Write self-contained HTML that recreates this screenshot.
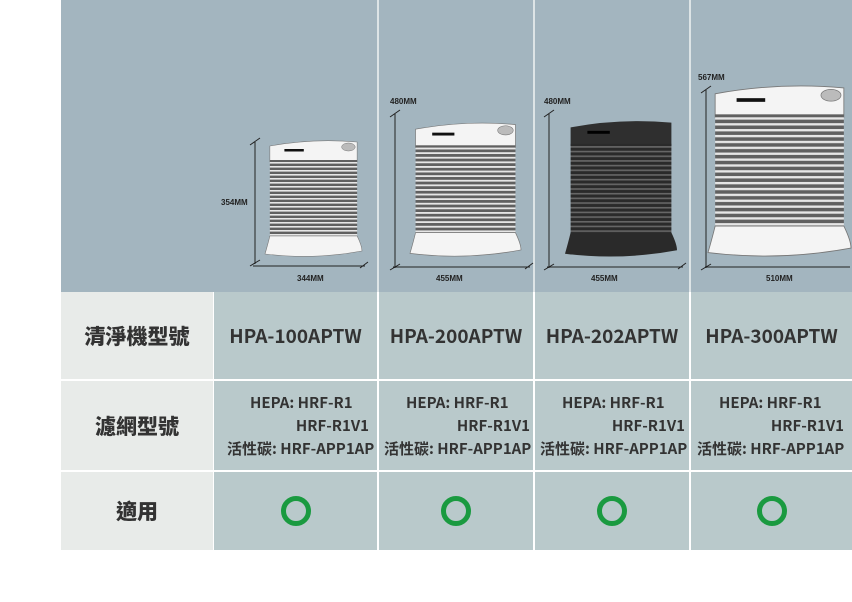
<!DOCTYPE html>
<html><head><meta charset="utf-8"><style>
body{margin:0;width:852px;height:602px;background:#fff;position:relative;overflow:hidden;font-family:"Liberation Sans","Noto Sans CJK TC",sans-serif}
.c{position:absolute;display:flex;align-items:center;justify-content:center;color:#3a3a3a;font-weight:bold}
.l{background:#e8ebe9;font-size:21px;font-family:"Noto Sans CJK TC",sans-serif;font-weight:900;color:#333}
.g{background:#b9c9cb}
.m{font-size:19px;font-family:"Noto Sans CJK TC","Liberation Sans",sans-serif;font-weight:700;color:#333}
.f{font-size:15px;font-family:"Noto Sans CJK TC","Liberation Sans",sans-serif;font-weight:700;color:#333;line-height:23px;flex-direction:column}
.f div{width:100%;box-sizing:border-box;white-space:nowrap}
.o{width:20px;height:20px;border:5px solid #1a9a40;border-radius:50%}
</style></head><body>
<svg style="position:absolute;left:0;top:0" width="852" height="292">
<defs>
<pattern id="s" width="10" height="4" patternUnits="userSpaceOnUse"><rect width="10" height="4" fill="#606060"/><rect y="0" width="10" height="1.6" fill="#e6e6e6"/></pattern>
<pattern id="d" width="10" height="4" patternUnits="userSpaceOnUse"><rect width="10" height="4" fill="#2a2a2a"/><rect y="0" width="10" height="1.4" fill="#666"/></pattern>
<g id="u"><path d="M5,8 Q50,0 95,4 L95,24 L5,24 Z" fill="#f4f4f4" stroke="#777" stroke-width=".6"/>
<rect x="5" y="22" width="90" height="78" fill="url(#s)"/>
<path d="M5,98 L95,98 Q100,108 100,113 Q50,122 0,116 Q3,106 5,98 Z" fill="#f4f4f4" stroke="#777" stroke-width=".6"/>
<rect x="20" y="11" width="20" height="2.5" fill="#111"/><ellipse cx="86" cy="9" rx="7" ry="4" fill="#bbb" stroke="#777" stroke-width=".5"/></g>
<g id="k"><path d="M5,8 Q50,0 95,4 L95,24 L5,24 Z" fill="#2f2f2f"/>
<rect x="5" y="22" width="90" height="78" fill="url(#d)"/>
<path d="M5,98 L95,98 Q100,108 100,113 Q50,122 0,116 Q3,106 5,98 Z" fill="#2a2a2a"/>
<rect x="20" y="11" width="20" height="2.5" fill="#000"/></g>
</defs>
<rect x="61" width="791" height="292" fill="#a3b5bf"/>
<rect x="377" y="0" width="2" height="292" fill="#dde4e6"/><rect x="533" y="0" width="2" height="292" fill="#dde4e6"/><rect x="689" y="0" width="2" height="292" fill="#dde4e6"/>
<use href="#u" transform="translate(265,138) scale(0.97,1)"/>
<use href="#u" transform="translate(410,120) scale(1.11,1.15)"/>
<use href="#k" transform="translate(565,118) scale(1.12,1.17)"/>
<use href="#u" transform="translate(708,82) scale(1.43,1.47)"/>
<g stroke="#222" stroke-width="1" fill="none">
<path d="M255,142 V264 M250,145 L260,138 M250,266 L260,260 M253,266 H365 M360,268 L368,262"/>
<path d="M395,114 V268 M390,117 L400,110 M390,270 L400,264 M393,267 H530 M525,269 L533,263"/>
<path d="M549,114 V268 M544,117 L554,110 M544,270 L554,264 M547,267 H683 M678,269 L686,263"/>
<path d="M706,90 V268 M701,93 L711,86 M701,270 L711,264 M705,267 H850"/>
</g>
<g font-family="Liberation Sans,sans-serif" font-size="8" font-weight="bold" fill="#222">
<text x="221" y="205">354MM</text><text x="297" y="281">344MM</text>
<text x="390" y="104">480MM</text><text x="436" y="281">455MM</text>
<text x="544" y="104">480MM</text><text x="591" y="281">455MM</text>
<text x="698" y="80">567MM</text><text x="766" y="281">510MM</text>
</g>
</svg>
<div class="c l" style="left:61px;top:292px;width:152px;height:87px">清淨機型號</div>
<div class="c l" style="left:61px;top:381px;width:152px;height:89px">濾網型號</div>
<div class="c l" style="left:61px;top:472px;width:152px;height:78px">適用</div>

<div class="c g m" style="left:214px;top:292px;width:163px;height:87px">HPA-100APTW</div>
<div class="c g m" style="left:379px;top:292px;width:154px;height:87px">HPA-200APTW</div>
<div class="c g m" style="left:535px;top:292px;width:154px;height:87px">HPA-202APTW</div>
<div class="c g m" style="left:691px;top:292px;width:161px;height:87px">HPA-300APTW</div>

<div class="c g f" style="left:214px;top:381px;width:163px;height:89px"><div style="padding-left:36px">HEPA: HRF-R1</div><div style="text-align:right;padding-right:8px">HRF-R1V1</div><div style="padding-left:13px">活性碳: HRF-APP1AP</div></div>
<div class="c g f" style="left:379px;top:381px;width:154px;height:89px"><div style="padding-left:27px">HEPA: HRF-R1</div><div style="text-align:right;padding-right:3px">HRF-R1V1</div><div style="padding-left:5px">活性碳: HRF-APP1AP</div></div>
<div class="c g f" style="left:535px;top:381px;width:154px;height:89px"><div style="padding-left:27px">HEPA: HRF-R1</div><div style="text-align:right;padding-right:4px">HRF-R1V1</div><div style="padding-left:5px">活性碳: HRF-APP1AP</div></div>
<div class="c g f" style="left:691px;top:381px;width:161px;height:89px"><div style="padding-left:28px">HEPA: HRF-R1</div><div style="text-align:right;padding-right:8px">HRF-R1V1</div><div style="padding-left:6px">活性碳: HRF-APP1AP</div></div>

<div class="c g" style="left:214px;top:472px;width:163px;height:78px"><div class="o"></div></div>
<div class="c g" style="left:379px;top:472px;width:154px;height:78px"><div class="o"></div></div>
<div class="c g" style="left:535px;top:472px;width:154px;height:78px"><div class="o"></div></div>
<div class="c g" style="left:691px;top:472px;width:161px;height:78px"><div class="o"></div></div>
</body></html>
